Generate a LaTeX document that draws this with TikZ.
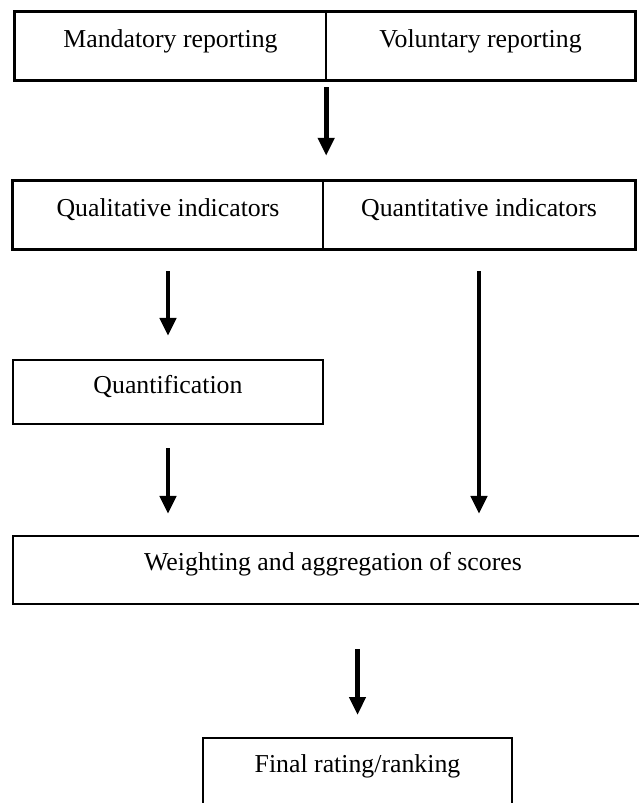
\documentclass[tikz,border=0pt]{standalone}
\usepackage{fontspec}
\setmainfont{Liberation Serif}
\usetikzlibrary{arrows.meta}
\begin{document}
\begin{tikzpicture}[x=1pt,y=-1pt,
  cell/.style={rectangle,inner sep=0pt,draw=none},
  boxed/.style={rectangle,inner sep=0pt,draw=black,line width=2.3pt},
  outer/.style={draw=black,line width=2.7pt},
  divider/.style={draw=black,line width=1.8pt},
  lbl/.style={anchor=base,inner sep=0pt,font=\fontsize{25.8}{30}\selectfont},
  arr/.style={line width=4.8pt,-{Triangle[width=16pt,length=18pt]}}]
\useasboundingbox (0,0) rectangle (639,803);
% top split box
\node[cell,minimum width=311pt,minimum height=68pt] (mand) at (170.5,46) {};
\node[cell,minimum width=309pt,minimum height=68pt] (vol) at (480.5,46) {};
\draw[outer] (mand.north west) rectangle (vol.south east);
\draw[divider] (mand.north east) -- (mand.south east);
\node[lbl] (tmand) at ([yshift=-36pt]mand.north) {Mandatory reporting};
\node[lbl] (tvol) at ([yshift=-36pt]vol.north) {Voluntary reporting};
% second split box
\node[cell,minimum width=310pt,minimum height=68pt] (qual) at (168,215) {};
\node[cell,minimum width=312pt,minimum height=68pt] (quant) at (479,215) {};
\draw[outer] (qual.north west) rectangle (quant.south east);
\draw[divider] (qual.north east) -- (qual.south east);
\node[lbl] (tqual) at ([yshift=-36pt]qual.north) {Qualitative indicators};
\node[lbl] (tquant) at ([yshift=-36pt]quant.north) {Quantitative indicators};
% quantification
\node[boxed,minimum width=310pt,minimum height=64pt] (quanti) at (168,392) {};
\node[lbl] (tquanti) at ([yshift=-35pt]quanti.north) {Quantification};
% weighting
\node[boxed,line width=2.2pt,minimum width=640pt,minimum height=68pt] (weight) at (333,570) {};
\node[lbl] (tweight) at ([yshift=-36pt]weight.north) {Weighting and aggregation of scores};
% final
\node[boxed,line width=2pt,minimum width=309pt,minimum height=82pt] (final) at (357.5,779) {};
\node[lbl] (tfinal) at ([yshift=-35pt]final.north) {Final rating/ranking};
% arrows
\draw[arr] ([yshift=-7pt]mand.south east) -- ([yshift=25pt]qual.north -| mand.south east);
\draw[arr] ([yshift=-22pt]qual.south) -- ([yshift=23pt]quanti.north);
\draw[arr] ([yshift=-22pt]quant.south) -- ([yshift=21pt]weight.north -| quant.south);
\draw[arr] ([yshift=-23pt]quanti.south) -- ([yshift=21pt]weight.north -| quanti.south);
\draw[arr] ([yshift=-44pt]weight.south -| final.north) -- ([yshift=22pt]final.north);
\end{tikzpicture}
\end{document}
